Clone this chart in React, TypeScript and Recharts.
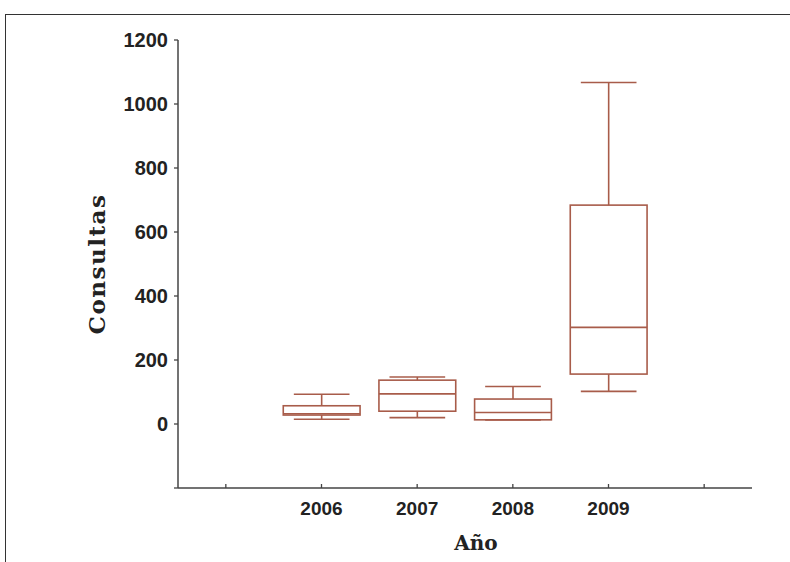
import { ComposedChart, Bar, XAxis, YAxis, Label } from 'recharts';

const years = ['2006', '2007', '2008', '2009'];
const mins = [15, 20, 13, 102];
const q1s = [28, 40, 13, 156];
const medians = [32, 94, 36, 302];
const q3s = [57, 137, 78, 684];
const maxs = [93, 147, 117, 1067];
const yTicks = [-200, 0, 200, 400, 600, 800, 1000, 1200];

// empty slots either side, like the original axis
const cats = ['pad-l', ...years, 'pad-r'];
const data = cats.map((c) => {
  const i = years.indexOf(c);
  if (i < 0) return { year: c, range: null };
  return {
    year: c,
    range: [mins[i], maxs[i]],
    min: mins[i],
    q1: q1s[i],
    median: medians[i],
    q3: q3s[i],
    max: maxs[i],
  };
});

const BOX = '#a85c4a';

function BoxShape(props: any) {
  const { x, y, width, height, payload } = props;
  if (!payload || !payload.range) return null;
  const top = Math.min(y, y + height);
  const bottom = Math.max(y, y + height);
  const span = payload.max - payload.min;
  const py = (v: number) => bottom - ((v - payload.min) / span) * (bottom - top);
  const cx = x + width / 2;
  const bw = width * 0.4;
  const cw = width * 0.29;
  return (
    <g stroke={BOX} strokeWidth={1.6} fill="none">
      <line x1={cx} x2={cx} y1={py(payload.max)} y2={py(payload.q3)} />
      <line x1={cx} x2={cx} y1={py(payload.q1)} y2={py(payload.min)} />
      <line x1={cx - cw} x2={cx + cw} y1={py(payload.max)} y2={py(payload.max)} />
      <line x1={cx - cw} x2={cx + cw} y1={py(payload.min)} y2={py(payload.min)} />
      <rect x={cx - bw} y={py(payload.q3)} width={bw * 2} height={py(payload.q1) - py(payload.q3)} />
      <line x1={cx - bw} x2={cx + bw} y1={py(payload.median)} y2={py(payload.median)} />
    </g>
  );
}

function XTick(props: any) {
  const { x, y, payload } = props;
  const axisY = y - 14;
  const show = years.includes(payload.value);
  return (
    <g>
      <line x1={x} x2={x} y1={axisY - 4} y2={axisY} stroke="#444" strokeWidth={1.3} />
      {show && (
        <text
          x={x}
          y={axisY + 27}
          textAnchor="middle"
          fontFamily="'Liberation Sans', Arial, sans-serif"
          fontWeight="bold"
          fontSize={19}
          fill="#222"
        >
          {payload.value}
        </text>
      )}
    </g>
  );
}

export default function App() {
  return (
    <div style={{ position: 'absolute', left: 0, top: 0, width: 790, height: 562, background: '#fff' }}>
      <div
        style={{
          position: 'absolute',
          left: 5,
          top: 14,
          right: 0,
          bottom: 0,
          borderTop: '1.5px solid #333',
          borderLeft: '1.5px solid #333',
        }}
      />
      <div style={{ position: 'absolute', left: 0, top: 0 }}>
        <ComposedChart
          width={790}
          height={562}
          data={data}
          margin={{ top: 40, right: 38, bottom: 34, left: 118 }}
          barCategoryGap="0%"
          barGap={0}
        >
          <XAxis
            dataKey="year"
            type="category"
            height={40}
            tickSize={0}
            tickMargin={14}
            tickLine={false}
            axisLine={{ stroke: '#444', strokeWidth: 1.5 }}
            tick={<XTick />}
            interval={0}
          >
            <Label
              content={() => (
                <text
                  x={476}
                  y={543}
                  textAnchor="middle"
                  dominantBaseline="central"
                  fontFamily="'DejaVu Serif', serif"
                  fontWeight="bold"
                  fontSize={20}
                  fill="#222"
                >
                  Año
                </text>
              )}
            />
          </XAxis>
          <YAxis
            type="number"
            domain={[-200, 1200]}
            ticks={yTicks}
            width={60}
            tickSize={4}
            tickMargin={6}
            axisLine={{ stroke: '#444', strokeWidth: 1.5 }}
            tickLine={{ stroke: '#444', strokeWidth: 1.3 }}
            tickFormatter={(v: number) => (v < 0 ? '' : String(v))}
            tick={{ fontFamily: "'Liberation Sans', Arial, sans-serif", fontWeight: 'bold', fontSize: 20, fill: '#222' }}
          >
            <Label
              content={(p: any) => {
                const vb = p.viewBox;
                const cy = vb.y + vb.height / 2;
                return (
                  <text
                    x={96}
                    y={cy}
                    transform={`rotate(-90 96 ${cy})`}
                    textAnchor="middle"
                    dominantBaseline="central"
                    fontFamily="'DejaVu Serif', serif"
                    fontWeight="bold"
                    fontSize={23}
                    letterSpacing={1.5}
                    fill="#222"
                  >
                    Consultas
                  </text>
                );
              }}
            />
          </YAxis>
          <Bar dataKey="range" shape={<BoxShape />} isAnimationActive={false} />
        </ComposedChart>
      </div>
    </div>
  );
}
